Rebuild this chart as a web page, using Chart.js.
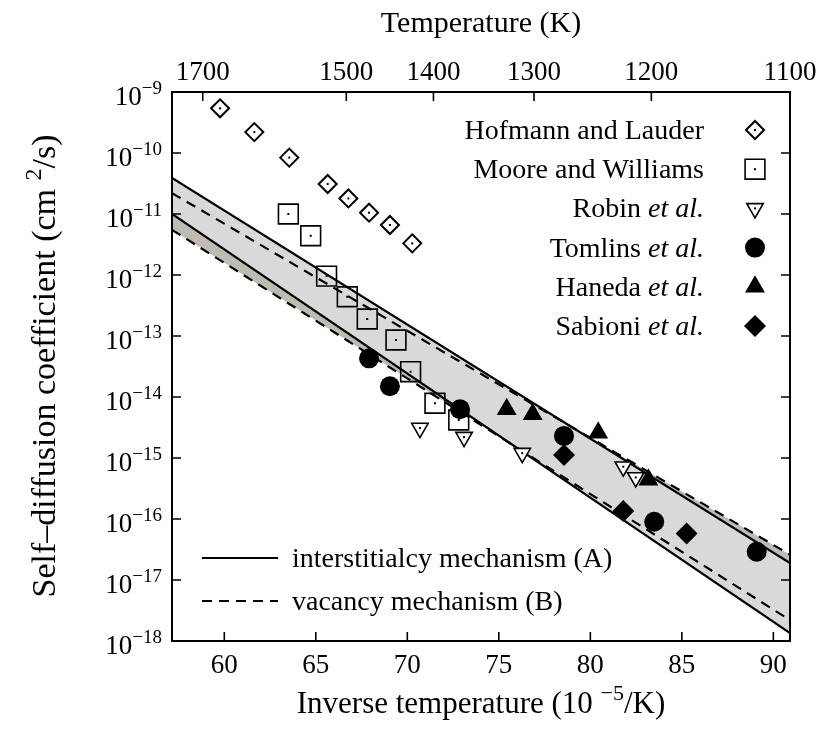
<!DOCTYPE html>
<html>
<head>
<meta charset="utf-8">
<script src="https://cdn.jsdelivr.net/npm/chart.js@4.4.1/dist/chart.umd.min.js"></script>
<style>
  html, body { margin: 0; padding: 0; background: #fff; }
  #wrap { width: 832px; height: 732px; }
</style>
</head>
<body>
<div id="wrap"><canvas id="chart" width="832" height="732"></canvas></div>
<script>
'use strict';

const FONT = '"Liberation Serif", "Times New Roman", serif';

// inverse temperature axis (10^-5/K), 1750 K down to 1100 K
const xMin = 1e5 / 1750;
const xMax = 1e5 / 1100;
const xTicks = [60, 65, 70, 75, 80, 85, 90];
const tempTicks = [1700, 1500, 1400, 1300, 1200, 1100];
const yExps = [-18, -17, -16, -15, -14, -13, -12, -11, -10, -9];

// measured data
const hofmannX = [59.77, 61.64, 63.55, 65.65, 66.78, 67.91, 69.05, 70.27];
const hofmannY = [5.4e-10, 2.2e-10, 8.4e-11, 3.1e-11, 1.8e-11, 1.05e-11, 6.6e-12, 3.3e-12];
const mooreX = [63.50, 64.72, 65.59, 66.72, 67.81, 69.38, 70.18, 71.51, 72.81];
const mooreY = [1.0e-11, 4.4e-12, 9.6e-13, 4.4e-13, 1.9e-13, 8.6e-14, 2.6e-14, 7.9e-15, 4.2e-15];
const robinX = [70.69, 73.10, 76.28, 81.80, 82.48];
const robinY = [3.1e-15, 2.2e-15, 1.2e-15, 7.2e-16, 4.8e-16];
const tomlinsX = [67.91, 69.05, 72.88, 78.56, 83.49, 89.09];
const tomlinsY = [4.3e-14, 1.5e-14, 6.3e-15, 2.3e-15, 9.0e-17, 2.9e-17];
const hanedaX = [75.43, 76.85, 80.43, 83.17];
const hanedaY = [6.3e-15, 5.2e-15, 2.6e-15, 4.4e-16];
const sabioniX = [78.56, 81.80, 85.26];
const sabioniY = [1.12e-15, 1.35e-16, 5.8e-17];

// calculated bounds, values at xMin and xMax
const lineX = [xMin, xMax];
const interUpper = [3.9e-11, 1.9e-17];
const interLower = [1.0e-11, 1.35e-18];
const vacUpper = [2.2e-11, 2.6e-17];
const vacLower = [5.5e-12, 2.2e-18];

function pts(xs, ys) {
  let out = [];
  for (let i = 0; i < xs.length; i++) {
    out.push({ x: xs[i], y: ys[i] });
  }
  return out;
}

function boundLine(label, ys, dashed, fillTarget, fillColor) {
  return {
    type: 'line',
    label: label,
    data: pts(lineX, ys),
    borderColor: '#000',
    borderWidth: 2.2,
    borderDash: dashed ? [10, 7] : [],
    pointRadius: 0,
    fill: fillTarget === null ? false : fillTarget,
    backgroundColor: fillColor || 'rgba(0,0,0,0)',
    order: 10
  };
}

const series = [
  { label: 'Hofmann and Lauder', x: hofmannX, y: hofmannY, style: 'rectRot', r: 9, bw: 2, fill: 'rgba(0,0,0,0)', dot: true },
  { label: 'Moore and Williams', x: mooreX, y: mooreY, style: 'rect', r: 14, bw: 1.6, fill: 'rgba(0,0,0,0)', dot: true },
  { label: 'Robin', x: robinX, y: robinY, style: 'triangle', rot: 180, r: 9.5, bw: 1.6, fill: '#fff', dot: true },
  { label: 'Tomlins', x: tomlinsX, y: tomlinsY, style: 'circle', r: 10, bw: 0, fill: '#000' },
  { label: 'Haneda', x: hanedaX, y: hanedaY, style: 'triangle', r: 11.5, bw: 0, fill: '#000' },
  { label: 'Sabioni', x: sabioniX, y: sabioniY, style: 'rectRot', r: 11, bw: 0, fill: '#000' }
];

let datasets = [
  boundLine('interstitialcy upper', interUpper, false, 1, '#d9d9d9'),
  boundLine('interstitialcy lower', interLower, false, null),
  boundLine('vacancy upper', vacUpper, true, 3, '#bdbbb4'),
  boundLine('vacancy lower', vacLower, true, null)
];

for (let s of series) {
  datasets.push({
    label: s.label,
    data: pts(s.x, s.y),
    pointStyle: s.style,
    rotation: s.rot || 0,
    pointRadius: s.r,
    pointBorderWidth: s.bw,
    borderColor: '#000',
    backgroundColor: s.fill,
    showLine: false,
    order: 0
  });
}

function markerOpts(s) {
  return { pointStyle: s.style, rotation: s.rot || 0, radius: s.r, borderWidth: s.bw };
}

// text with a raised part: parts = [[text, isSup, italic]]
function partsWidth(ctx, parts, size, supSize) {
  let w = 0;
  for (let p of parts) {
    ctx.font = (p[2] ? 'italic ' : '') + (p[1] ? supSize : size) + 'px ' + FONT;
    w += ctx.measureText(p[0]).width;
  }
  return w;
}

function drawParts(ctx, parts, x, y, size, supSize, rise) {
  for (let p of parts) {
    ctx.font = (p[2] ? 'italic ' : '') + (p[1] ? supSize : size) + 'px ' + FONT;
    ctx.fillText(p[0], x, p[1] ? y - rise : y);
    x += ctx.measureText(p[0]).width;
  }
}

const gnuFrame = {
  id: 'gnuFrame',
  afterDatasetsDraw(chart) {
    const ctx = chart.ctx;
    ctx.save();
    ctx.fillStyle = '#000';
    for (let i = 0; i < series.length; i++) {
      if (!series[i].dot) continue;
      chart.getDatasetMeta(i + 4).data.forEach(el => {
        ctx.fillRect(el.x - 1, el.y - 1, 2, 2);
      });
    }
    ctx.restore();
  },
  afterDraw(chart) {
    const ctx = chart.ctx;
    const a = chart.chartArea;
    const xs = chart.scales.x;
    const ys = chart.scales.y;
    ctx.save();
    ctx.strokeStyle = '#000';
    ctx.fillStyle = '#000';
    ctx.lineWidth = 2;
    ctx.strokeRect(a.left, a.top, a.right - a.left, a.bottom - a.top);

    // inward ticks
    ctx.lineWidth = 1.6;
    ctx.beginPath();
    xTicks.forEach(v => {
      const p = xs.getPixelForValue(v);
      ctx.moveTo(p, a.bottom); ctx.lineTo(p, a.bottom - 9);
    });
    tempTicks.forEach(t => {
      const p = xs.getPixelForValue(1e5 / t);
      ctx.moveTo(p, a.top); ctx.lineTo(p, a.top + 9);
    });
    yExps.forEach(e => {
      const p = ys.getPixelForValue(Math.pow(10, e));
      ctx.moveTo(a.left, p); ctx.lineTo(a.left + 9, p);
      ctx.moveTo(a.right, p); ctx.lineTo(a.right - 9, p);
    });
    ctx.stroke();

    // tick labels
    ctx.textBaseline = 'alphabetic';
    ctx.font = '27px ' + FONT;
    ctx.textAlign = 'center';
    xTicks.forEach(v => {
      ctx.fillText(String(v), xs.getPixelForValue(v), a.bottom + 32);
    });
    tempTicks.forEach(t => {
      ctx.fillText(String(t), xs.getPixelForValue(1e5 / t), a.top - 12);
    });
    ctx.textAlign = 'left';
    yExps.forEach(e => {
      const p = ys.getPixelForValue(Math.pow(10, e));
      const parts = [['10', false], ['\u2212' + Math.abs(e), true]];
      const w = partsWidth(ctx, parts, 27, 19);
      drawParts(ctx, parts, 162 - w, p + 13, 27, 19, 11);
    });

    // axis titles
    ctx.font = '30px ' + FONT;
    ctx.textAlign = 'center';
    ctx.fillText('Temperature (K)', (a.left + a.right) / 2, 32);
    ctx.textAlign = 'left';
    let xt = [['Inverse temperature (10 ', false], ['\u22125', true], ['/K)', false]];
    let w = partsWidth(ctx, xt, 31, 22);
    drawParts(ctx, xt, (a.left + a.right) / 2 - w / 2, 713, 31, 22, 13);

    let yt = [['Self\u2013diffusion coefficient (cm ', false], ['2', true], ['/s)', false]];
    w = partsWidth(ctx, yt, 34, 24);
    ctx.save();
    ctx.translate(55, 366);
    ctx.rotate(-Math.PI / 2);
    drawParts(ctx, yt, -w / 2, 0, 34, 24, 14);
    ctx.restore();

    // data legend, top right
    const names = [
      [['Hofmann and Lauder', false]],
      [['Moore and Williams', false]],
      [['Robin ', false], ['et al.', false, true]],
      [['Tomlins ', false], ['et al.', false, true]],
      [['Haneda ', false], ['et al.', false, true]],
      [['Sabioni ', false], ['et al.', false, true]]
    ];
    for (let i = 0; i < series.length; i++) {
      const y = 130 + i * 39.2;
      const tw = partsWidth(ctx, names[i], 28, 20);
      ctx.fillStyle = '#000';
      drawParts(ctx, names[i], 704 - tw, y + 9, 28, 20, 0);
      const s = series[i];
      ctx.fillStyle = s.fill;
      ctx.strokeStyle = '#000';
      ctx.lineWidth = s.bw;
      Chart.helpers.drawPoint(ctx, markerOpts(s), 755, y);
      if (s.dot) {
        ctx.fillStyle = '#000';
        ctx.fillRect(754, y - 1, 2, 2);
      }
    }

    // line legend, bottom left
    ctx.fillStyle = '#000';
    ctx.strokeStyle = '#000';
    ctx.lineWidth = 2.2;
    ctx.beginPath();
    ctx.moveTo(202, 558); ctx.lineTo(278, 558);
    ctx.stroke();
    ctx.setLineDash([10, 7]);
    ctx.beginPath();
    ctx.moveTo(202, 601); ctx.lineTo(278, 601);
    ctx.stroke();
    ctx.setLineDash([]);
    ctx.font = '28px ' + FONT;
    ctx.textAlign = 'left';
    ctx.fillText('interstitialcy mechanism (A)', 292, 567);
    ctx.fillText('vacancy mechanism (B)', 292, 610);
    ctx.restore();
  }
};

const ctx = document.getElementById('chart').getContext('2d');
const chart = new Chart(ctx, {
  type: 'scatter',
  data: { datasets: datasets },
  options: {
    responsive: false,
    animation: false,
    events: [],
    layout: { padding: { left: 172, top: 92, right: 42, bottom: 91 } },
    scales: {
      x: { type: 'linear', min: xMin, max: xMax, display: false },
      y: { type: 'logarithmic', min: 1e-18, max: 1e-9, display: false }
    },
    plugins: {
      legend: { display: false },
      tooltip: { enabled: false },
      filler: { drawTime: 'beforeDatasetsDraw' }
    }
  },
  plugins: [gnuFrame]
});
</script>
</body>
</html>
